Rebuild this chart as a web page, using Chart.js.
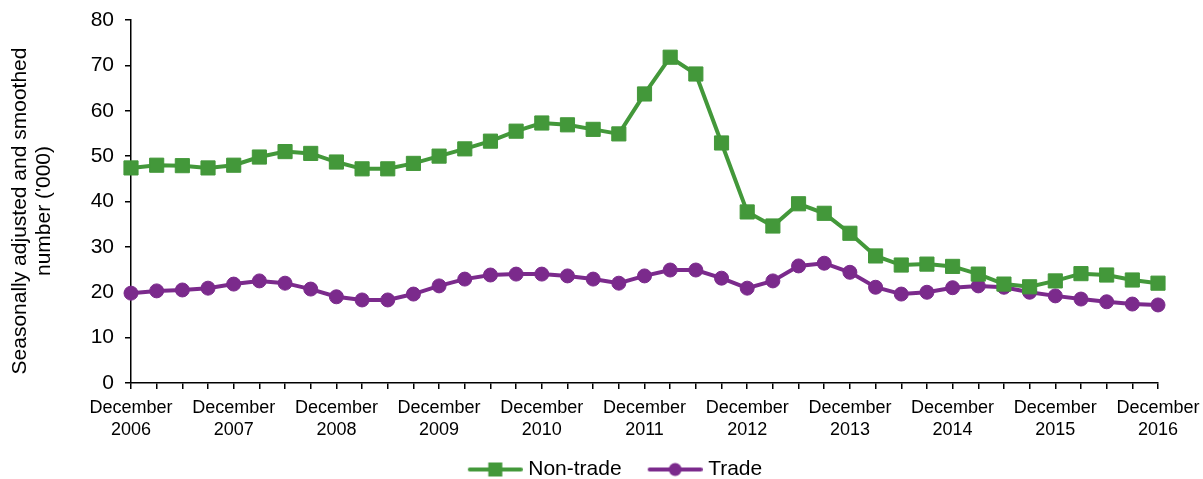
<!DOCTYPE html>
<html>
<head>
<meta charset="utf-8">
<script src="https://cdn.jsdelivr.net/npm/chart.js@4/dist/chart.umd.min.js"></script>
<style>
  body { margin: 0; background: #fff; }
  #wrap { width: 1203px; height: 479px; position: relative; }
</style>
</head>
<body>
<div id="wrap"><canvas id="chart"></canvas></div>
<script>
// quarterly, December 2006 - December 2016
const quarters = [
  'December 2006', 'March 2007', 'June 2007', 'September 2007',
  'December 2007', 'March 2008', 'June 2008', 'September 2008',
  'December 2008', 'March 2009', 'June 2009', 'September 2009',
  'December 2009', 'March 2010', 'June 2010', 'September 2010',
  'December 2010', 'March 2011', 'June 2011', 'September 2011',
  'December 2011', 'March 2012', 'June 2012', 'September 2012',
  'December 2012', 'March 2013', 'June 2013', 'September 2013',
  'December 2013', 'March 2014', 'June 2014', 'September 2014',
  'December 2014', 'March 2015', 'June 2015', 'September 2015',
  'December 2015', 'March 2016', 'June 2016', 'September 2016',
  'December 2016'
];

const nonTrade = [47.4, 48.0, 47.9, 47.4, 48.0, 49.8, 51.0, 50.6, 48.7, 47.2,
  47.2, 48.4, 50.0, 51.6, 53.3, 55.5, 57.3, 56.9, 55.9, 54.9,
  63.7, 71.8, 68.1, 52.9, 37.7, 34.6, 39.5, 37.4, 33.0, 28.0,
  26.0, 26.2, 25.7, 24.0, 21.8, 21.2, 22.5, 24.1, 23.8, 22.7, 22.0];

const trade = [19.8, 20.3, 20.5, 20.9, 21.8, 22.5, 22.0, 20.7, 19.0, 18.3,
  18.3, 19.6, 21.4, 22.9, 23.8, 24.0, 24.0, 23.6, 22.9, 22.0,
  23.6, 24.9, 24.9, 23.1, 20.9, 22.5, 25.8, 26.4, 24.4, 21.1,
  19.6, 20.0, 21.0, 21.4, 21.1, 20.0, 19.2, 18.5, 17.9, 17.4, 17.2];

const yTitle = ['Seasonally adjusted and smoothed', "number ('000)"];

const GREEN = 'rgb(67,152,58)';
const PURPLE = 'rgb(123,42,140)';
const FONT = "'Liberation Sans', Arial, sans-serif";

// legend swatch: line with the marker in the middle
function swatch(color, shape) {
  const c = document.createElement('canvas');
  c.width = 60; c.height = 20;
  const g = c.getContext('2d');
  g.strokeStyle = color; g.fillStyle = color;
  g.lineWidth = 4; g.lineCap = 'round';
  g.beginPath(); g.moveTo(7, 10); g.lineTo(58, 10); g.stroke();
  if (shape === 'rect') {
    g.fillRect(32.5 - 7, 3, 14, 14);
  } else {
    g.beginPath(); g.arc(32.5, 10, 6.5, 0, Math.PI * 2); g.fill();
  }
  return c;
}

const yTitlePlugin = {
  id: 'yTitle',
  afterLayout(chart) {
    // legend sits a bit right of centre and tucked under the labels
    const lg = chart.legend;
    if (lg) { lg.left += 36; lg.right += 36; lg.top -= 8; lg.bottom -= 8; }
  },
  afterDraw(chart) {
    const ctx = chart.ctx;
    ctx.save();
    ctx.fillStyle = '#000';
    ctx.font = '21px ' + FONT;
    ctx.textAlign = 'center';
    ctx.textBaseline = 'middle';
    ctx.translate(0, 211);
    ctx.rotate(-Math.PI / 2);
    ctx.fillText(yTitle[0], 0, 20);
    ctx.fillText(yTitle[1], 0, 44);
    ctx.restore();
  }
};

new Chart(document.getElementById('chart'), {
  type: 'line',
  data: {
    labels: quarters,
    datasets: [{
      label: 'Non-trade',
      data: nonTrade,
      borderColor: GREEN,
      backgroundColor: GREEN,
      borderWidth: 4,
      pointStyle: 'rect',
      pointRadius: 10,
      pointBorderWidth: 1,
      pointHoverRadius: 10,
      tension: 0,
      fill: false
    }, {
      label: 'Trade',
      data: trade,
      borderColor: PURPLE,
      backgroundColor: PURPLE,
      borderWidth: 4,
      pointStyle: 'circle',
      pointRadius: 7,
      pointBorderWidth: 1,
      pointHoverRadius: 7,
      tension: 0,
      fill: false
    }]
  },
  options: {
    responsive: true,
    maintainAspectRatio: false,
    animation: false,
    devicePixelRatio: 1,
    layout: { padding: { left: 0, right: 45, top: 20, bottom: -19 } },
    scales: {
      x: {
        offset: false,
        grid: { display: true, drawOnChartArea: false, drawTicks: true, tickLength: 6, color: '#000', lineWidth: 1.5 },
        border: { display: true, color: '#000', width: 1.5 },
        ticks: {
          autoSkip: false, maxRotation: 0, minRotation: 0, padding: 9,
          color: '#000', font: { family: FONT, size: 18, lineHeight: 1.17 },
          callback: function (v, i) {
            const lab = quarters[i];
            if (lab.indexOf('December') === 0) return ['December', lab.split(' ')[1]];
            return '';
          }
        },
        afterFit: function (s) { s.height = 58; s.paddingLeft = 0; s.paddingRight = 0; }
      },
      y: {
        min: 0, max: 80,
        grid: { display: true, drawOnChartArea: false, drawTicks: true, tickLength: 6, color: '#000', lineWidth: 1.5 },
        border: { display: true, color: '#000', width: 1.5 },
        ticks: { stepSize: 10, padding: 11, color: '#000', font: { family: FONT, size: 21 } },
        afterFit: function (s) { s.width = 131; s.paddingTop = 0; s.paddingBottom = 0; }
      }
    },
    plugins: {
      legend: {
        position: 'bottom',
        labels: {
          usePointStyle: true,
          pointStyleWidth: 50,
          padding: 26,
          color: '#000',
          font: { family: FONT, size: 21 },
          generateLabels: function (chart) {
            return [
              { text: 'Non-trade', pointStyle: swatch(GREEN, 'rect'), datasetIndex: 0, fillStyle: GREEN, strokeStyle: GREEN, lineWidth: 0, hidden: false, fontColor: '#000' },
              { text: 'Trade', pointStyle: swatch(PURPLE, 'circle'), datasetIndex: 1, fillStyle: PURPLE, strokeStyle: PURPLE, lineWidth: 0, hidden: false, fontColor: '#000' }
            ];
          }
        }
      },
      tooltip: { enabled: false }
    }
  },
  plugins: [yTitlePlugin]
});
</script>
</body>
</html>
